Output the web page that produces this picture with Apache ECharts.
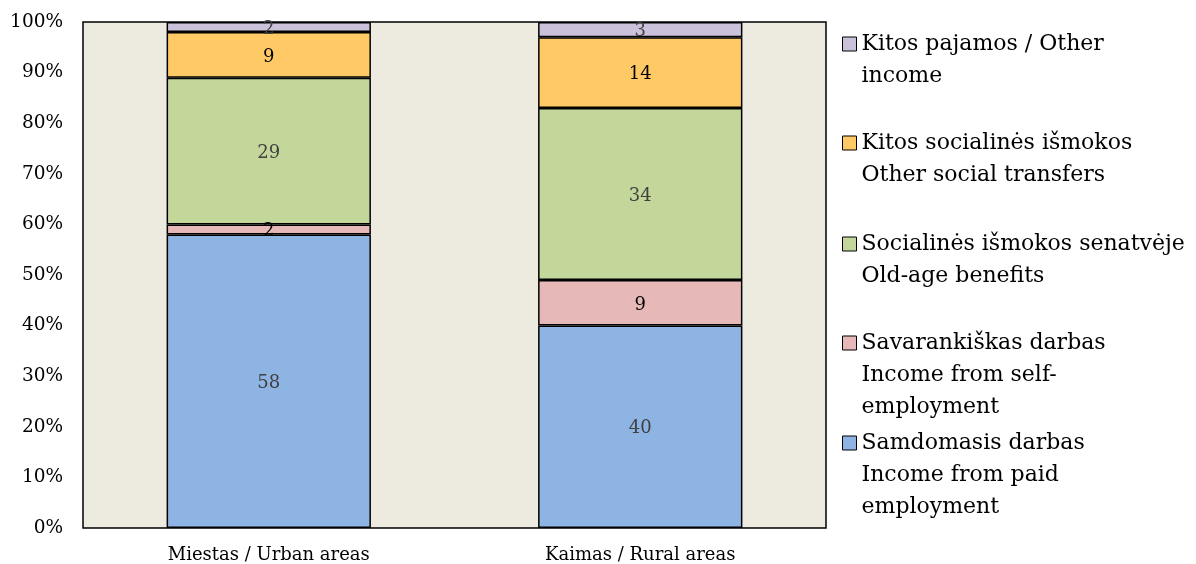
<!DOCTYPE html>
<html>
<head>
<meta charset="utf-8">
<script src="https://cdn.jsdelivr.net/npm/echarts@6/dist/echarts.min.js"></script>
<style>
  html, body { margin: 0; padding: 0; background: #fff; }
  #chart { width: 1196px; height: 564px; }
</style>
</head>
<body>
<div id="chart"></div>
<script>
// categories and values (percent)
var categories = ['Miestas / Urban areas', 'Kaimas / Rural areas'];
var paidEmployment = [58, 40];
var selfEmployment = [2, 9];
var oldAgeBenefits = [29, 34];
var otherTransfers = [9, 14];
var otherIncome = [2, 3];

var names = ['Samdomasis darbas', 'Savarankiškas darbas', 'Socialinės išmokos senatvėje', 'Kitos socialinės išmokos', 'Kitos pajamos'];
var legendText = [
    'Samdomasis darbas\nIncome from paid\nemployment',
    'Savarankiškas darbas\nIncome from self-\nemployment',
    'Socialinės išmokos senatvėje\nOld-age benefits',
    'Kitos socialinės išmokos\nOther social transfers',
    'Kitos pajamos / Other\nincome'
];
var colors = ['#8EB4E3', '#E6B9B8', '#C4D79B', '#FFCA65', '#CCC1DA'];
var labelColors = ['#404040', '#000000', '#404040', '#000000', '#404040'];
var values = [paidEmployment, selfEmployment, oldAgeBenefits, otherTransfers, otherIncome];
// y of the first legend line for each item (bottom item first)
var legendY = [443, 343, 244, 143, 44];

var FONT = 'DejaVu Serif';
var LH = 32;

var chart = echarts.init(document.getElementById('chart'), null, { renderer: 'canvas' });

var series = names.map(function (n, i) {
    return {
        name: n,
        type: 'bar',
        stack: 'total',
        barWidth: '55%',
        data: values[i],
        itemStyle: { color: colors[i], borderColor: '#000', borderWidth: 1.5 },
        label: {
            show: true,
            position: 'inside',
            offset: [0, 2],
            color: labelColors[i],
            fontFamily: FONT,
            fontSize: 18
        }
    };
});

// one legend per item so that the icon sits on the first text line
var legends = names.map(function (n, i) {
    var lines = legendText[i].split('\n').length;
    var pad = '';
    for (var k = 1; k < lines; k++) pad += '\n';
    return {
        data: [n],
        left: 842,
        top: legendY[i] - (2 * lines - 1) * LH / 2,
        padding: 0,
        itemWidth: 14,
        itemHeight: 14,
        itemGap: 6,
        icon: 'rect',
        selectedMode: false,
        itemStyle: { borderColor: '#000', borderWidth: 1 },
        formatter: function () { return pad + legendText[i]; },
        textStyle: {
            fontFamily: FONT,
            fontSize: 22,
            color: '#000',
            lineHeight: LH
        }
    };
});

var option = {
    animation: false,
    backgroundColor: '#fff',
    grid: {
        left: 83,
        right: 370,
        top: 22,
        bottom: 36,
        show: true,
        backgroundColor: '#EDEBE0',
        borderColor: '#000',
        borderWidth: 1.5
    },
    legend: legends,
    xAxis: {
        type: 'category',
        data: categories,
        axisLine: { show: false },
        axisTick: { show: false },
        axisLabel: { fontFamily: FONT, fontSize: 18, color: '#000', margin: 18 }
    },
    yAxis: {
        type: 'value',
        min: 0,
        max: 100,
        interval: 10,
        splitLine: { show: false },
        axisLine: { show: false },
        axisTick: { show: false },
        axisLabel: { formatter: '{value}%', fontFamily: FONT, fontSize: 18.5, color: '#000', margin: 20 }
    },
    series: series
};

chart.setOption(option);
</script>
</body>
</html>
